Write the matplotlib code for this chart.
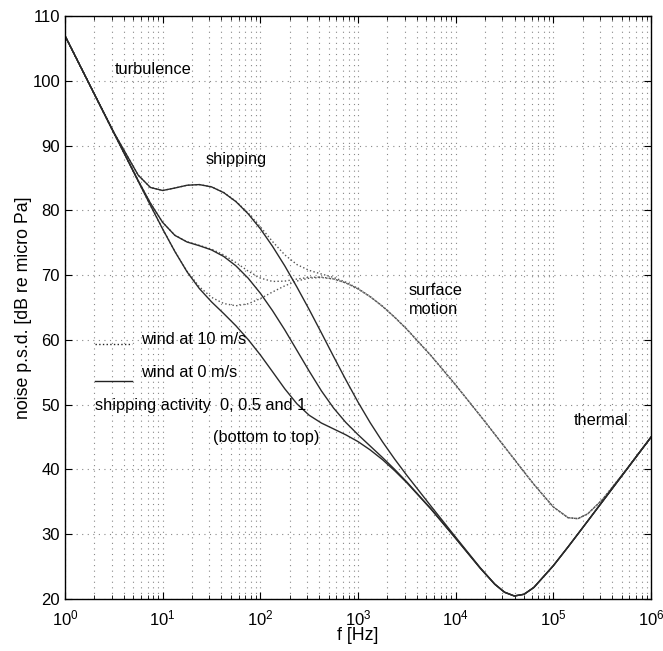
import numpy as np
import matplotlib
matplotlib.use('Agg')
import matplotlib.pyplot as plt
from matplotlib.ticker import LogLocator, NullFormatter

plt.rcParams['font.family'] = ['Liberation Sans', 'DejaVu Sans']
plt.rcParams['mathtext.fontset'] = 'custom'
plt.rcParams['mathtext.rm'] = 'Liberation Sans'

# frequency grid (log10 of f in Hz)
log_f = [0, 0.25, 0.5, 0.75, 0.875, 1, 1.125, 1.25, 1.375, 1.5, 1.625, 1.75,
         1.875, 2, 2.125, 2.25, 2.375, 2.5, 2.625, 2.75, 2.875, 3, 3.125,
         3.25, 3.375, 3.5, 3.75, 4, 4.25, 4.4, 4.5, 4.6, 4.7, 4.8, 5, 5.15,
         5.25, 5.35, 5.5, 5.75, 6]

# noise p.s.d. [dB], wind 0 m/s, shipping 0 / 0.5 / 1
calm_s0 = [107.0, 99.5, 92.0, 84.51, 80.79, 77.14, 73.67, 70.52, 67.95, 65.89,
           64.08, 62.19, 60.07, 57.69, 55.09, 52.46, 50.13, 48.37, 47.17, 46.26,
           45.35, 44.30, 43.01, 41.52, 39.81, 37.94, 33.82, 29.34, 24.76, 22.26,
           21.02, 20.45, 20.72, 21.77, 25.14, 28.03, 30.01, 32.00, 35.00, 40.00,
           45.00]
calm_s05 = [107.0, 99.5, 92.01, 84.61, 81.12, 78.16, 76.16, 75.13, 74.56, 73.91,
            72.90, 71.45, 69.55, 67.22, 64.52, 61.56, 58.38, 55.19, 52.14, 49.48,
            47.26, 45.37, 43.61, 41.85, 40.01, 38.06, 33.86, 29.36, 24.77, 22.27,
            21.03, 20.45, 20.72, 21.77, 25.14, 28.03, 30.01, 32.00, 35.00, 40.00,
            45.00]
calm_s1 = [107.0, 99.5, 92.07, 85.45, 83.55, 83.09, 83.47, 83.90, 84.00, 83.65,
           82.76, 81.37, 79.49, 77.18, 74.46, 71.45, 68.16, 64.70, 61.10, 57.44,
           53.85, 50.40, 47.21, 44.29, 41.60, 39.08, 34.27, 29.53, 24.84, 22.30,
           21.05, 20.46, 20.72, 21.77, 25.14, 28.03, 30.01, 32.00, 35.00, 40.00,
           45.00]

# wind 10 m/s, shipping 0 / 0.5 / 1
wind_s0 = [107.0, 99.5, 92.0, 84.51, 80.79, 77.15, 73.67, 70.62, 68.23, 66.59,
           65.63, 65.28, 65.59, 66.39, 67.41, 68.36, 69.11, 69.55, 69.65, 69.41,
           68.81, 67.88, 66.66, 65.20, 63.51, 61.65, 57.53, 53.04, 48.33, 45.44,
           43.50, 41.56, 39.62, 37.70, 34.20, 32.55, 32.40, 33.12, 35.31, 40.03,
           45.00]
wind_s05 = [107.0, 99.5, 92.01, 84.61, 81.12, 78.16, 76.18, 75.17, 74.62, 74.03,
            73.14, 71.95, 70.65, 69.56, 69.04, 69.09, 69.41, 69.68, 69.71, 69.43,
            68.82, 67.90, 66.68, 65.20, 63.51, 61.65, 57.53, 53.04, 48.33, 45.44,
            43.50, 41.56, 39.62, 37.70, 34.20, 32.55, 32.40, 33.12, 35.31, 40.03,
            45.00]
wind_s1 = [107.0, 99.5, 92.07, 85.45, 83.55, 83.09, 83.47, 83.90, 84.00, 83.66,
           82.79, 81.42, 79.62, 77.48, 75.20, 73.15, 71.64, 70.75, 70.19, 69.66,
           68.93, 67.96, 66.71, 65.24, 63.53, 61.66, 57.53, 53.04, 48.33, 45.44,
           43.50, 41.56, 39.62, 37.70, 34.20, 32.55, 32.40, 33.12, 35.31, 40.03,
           45.00]

f = 10.0 ** np.array(log_f)
line_col = '#2a2a2a'

fig = plt.figure(figsize=(6.63, 6.51), dpi=100)
ax = fig.add_axes([0.098, 0.080, 0.884, 0.895])

for y in (wind_s0, wind_s05, wind_s1):
    ax.plot(f, y, ':', color='#555555', lw=1.0)
for y in (calm_s0, calm_s05, calm_s1):
    ax.plot(f, y, '-', color=line_col, lw=1.0)

ax.set_xscale('log')
ax.set_xlim(1, 1e6)
ax.set_ylim(20, 110)
ax.set_yticks(np.arange(20, 111, 10))
ax.xaxis.set_major_locator(LogLocator(base=10, numticks=10))
ax.xaxis.set_minor_locator(LogLocator(base=10, subs=np.arange(2, 10), numticks=100))
ax.xaxis.set_minor_formatter(NullFormatter())

ax.grid(True, which='major', axis='both', ls=(0, (1, 4)), color='#888888', lw=0.8)
ax.grid(True, which='minor', axis='x', ls=(0, (1, 4)), color='#888888', lw=0.8)

ax.tick_params(which='both', direction='in', top=True, right=True, labelsize=12)
ax.tick_params(which='major', length=5)
ax.tick_params(which='minor', length=3)
ax.tick_params(axis='x', which='major', pad=7)
for sp in ax.spines.values():
    sp.set_linewidth(1.0)

ax.set_xlabel('f [Hz]', fontsize=12.8, labelpad=-1)
ax.set_ylabel('noise p.s.d. [dB re micro Pa]', fontsize=12.8, labelpad=0)

fs = 11.8
ax.text(3.2, 101.8, 'turbulence', fontsize=fs, va='center')
ax.text(27.5, 87.8, 'shipping', fontsize=fs, va='center')
ax.text(3.3e3, 67.7, 'surface', fontsize=fs, va='center')
ax.text(3.3e3, 64.7, 'motion', fontsize=fs, va='center')
ax.text(1.62e5, 47.5, 'thermal', fontsize=fs, va='center')

# legend drawn as text + sample lines
ax.plot([2.03, 4.85], [59.3, 59.3], ':', color='#222222', lw=1.0)
ax.plot([2.03, 4.85], [53.7, 53.7], '-', color='#222222', lw=1.0)
ax.text(6.0, 60.0, 'wind at 10 m/s', fontsize=fs, va='center')
ax.text(6.0, 54.9, 'wind at 0 m/s', fontsize=fs, va='center')
ax.text(2.03, 49.8, 'shipping activity  0, 0.5 and 1', fontsize=fs, va='center')
ax.text(32.5, 44.9, '(bottom to top)', fontsize=fs, va='center')

fig.savefig('out.png', dpi=100)
